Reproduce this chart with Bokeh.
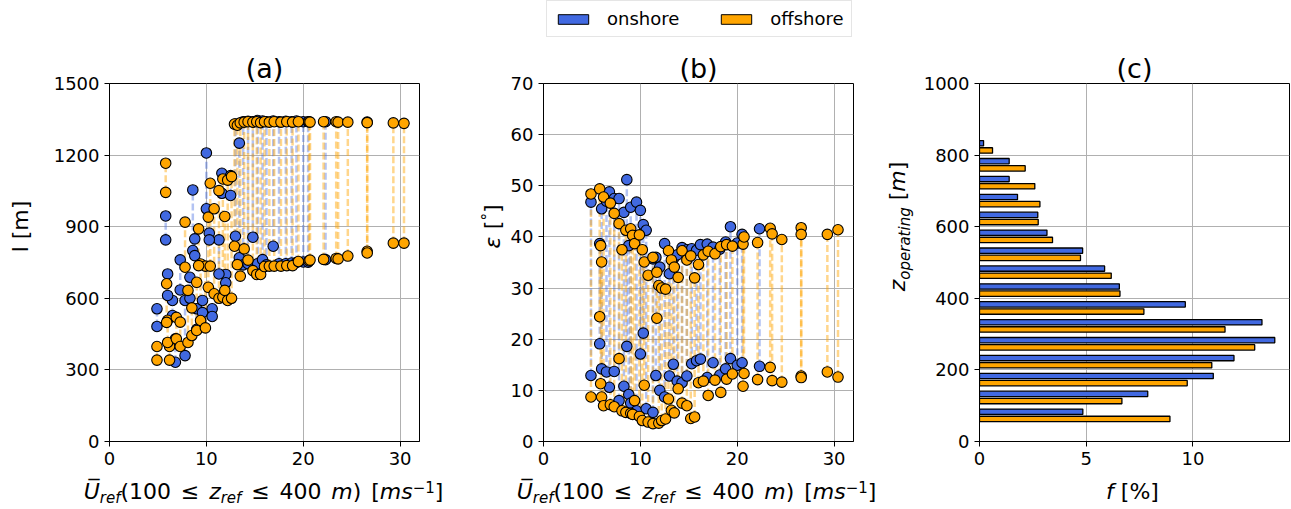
import math
from bokeh.plotting import figure
from bokeh.layouts import row, column
from bokeh.models import (Label, Legend, LegendItem, FixedTicker, Range1d,
                          ColumnDataSource)
from bokeh.embed import file_html
from bokeh.resources import INLINE

BLUE = "#4169E1"
ORANGE = "#FFA500"
FONT = "DejaVu Sans"

# ---------------- data ----------------
series_names = ["onshore", "offshore"]
panel_titles = ["(a)", "(b)", "(c)"]

U_on = [4.9, 5.8, 6.0, 6.5, 6.8, 7.3, 7.8, 8.3, 8.6, 8.8, 9.0, 9.6, 10.0, 10.3, 10.6, 11.3, 11.6, 12.0,
        12.5, 13.0, 13.4, 13.8, 14.3, 14.8, 15.3, 15.8, 16.2, 16.9, 17.5, 18.2, 18.8, 19.3, 20.0, 20.5, 22.3]
l_top_on = [556, 945, 702, 591, 430, 761, 591, 688, 1054, 849, 556, 591, 1209, 873, 556, 845, 1124, 700,
            1114, 1330, 1250, 1340, 1342, 1340, 1345, 1343, 1340, 1343, 1340, 1342, 1340, 1343, 1340, 1340, 1340]
l_bot_on = [482, 845, 612, 528, 332, 635, 360, 600, 800, 779, 470, 540, 975, 845, 524, 702, 1040, 665,
            1031, 860, 770, 740, 745, 856, 745, 762, 740, 818, 745, 745, 748, 750, 752, 751, 762]
e_top_on = [46.8, 38.7, 45.5, 47.0, 48.8, 47.5, 47.5, 44.8, 51.2, 38.3, 45.8, 46.8, 45.2, 42.4, 41.3, 35.7,
            36.0, 34.1, 38.7, 32.8, 35.7, 36.5, 37.9, 37.5, 37.7, 37.4, 38.5, 38.6, 38.0, 37.6, 39.0, 42.0,
            38.8, 40.5, 41.6]
e_bot_on = [12.9, 19.1, 14.2, 13.6, 10.6, 13.7, 8.0, 10.8, 18.6, 9.2, 7.5, 6.0, 17.1, 21.2, 6.4, 5.7,
            12.9, 10.0, 8.7, 12.8, 15.1, 11.8, 11.5, 12.8, 15.2, 15.8, 16.1, 12.5, 15.4, 13.0, 14.2, 16.2,
            14.9, 15.4, 14.7]

U_off = [4.9, 5.8, 5.9, 6.0, 6.2, 6.9, 7.3, 7.8, 8.1, 8.5, 9.0, 9.2, 9.4, 9.9, 10.2, 10.4, 10.8, 11.3,
         11.7, 11.9, 12.2, 12.6, 12.9, 13.2, 13.5, 13.9, 14.3, 14.8, 15.2, 15.6, 16.0, 16.5, 17.0, 17.7,
         18.3, 18.9, 19.5, 20.6, 20.7, 22.1, 23.4, 23.6, 24.6, 26.6, 26.6, 29.3, 30.4]
l_top_off = [398, 1166, 661, 508, 398, 520, 500, 919, 633, 560, 667, 891, 744, 735, 940, 1082, 975, 1051,
             1100, 943, 1095, 1110, 1330, 1325, 1335, 1338, 1340, 1338, 1340, 1336, 1340, 1338, 1340, 1338,
             1340, 1338, 1340, 1340, 1338, 1340, 1340, 1338, 1338, 1338, 1336, 1335, 1333]
l_bot_off = [341, 1044, 499, 415, 341, 430, 398, 730, 415, 444, 465, 737, 507, 476, 646, 735, 619, 600,
             605, 633, 591, 600, 818, 741, 693, 807, 760, 716, 700, 700, 733, 735, 735, 735, 737, 737,
             754, 757, 760, 763, 767, 765, 777, 797, 790, 831, 831]
e_top_off = [48.4, 49.4, 38.3, 35.1, 47.8, 46.6, 44.6, 42.6, 37.5, 41.3, 41.6, 40.3, 38.7, 40.4, 37.5,
             35.1, 32.5, 36.0, 33.1, 30.5, 30.0, 29.8, 37.3, 35.5, 34.1, 32.1, 37.3, 35.5, 36.3, 32.0,
             34.6, 36.5, 37.2, 36.7, 38.1, 38.5, 38.2, 38.6, 40.0, 38.9, 41.7, 40.6, 39.5, 41.8, 40.5,
             40.5, 41.4]
e_bot_off = [8.7, 24.4, 11.3, 8.7, 7.0, 7.2, 6.8, 16.2, 6.0, 5.7, 5.5, 5.3, 8.0, 4.9, 4.1, 11.0, 3.8,
             3.5, 24.1, 3.6, 4.1, 4.4, 8.3, 6.1, 5.6, 10.3, 7.5, 7.0, 4.5, 4.8, 11.5, 11.8, 9.0, 12.0,
             9.6, 12.2, 13.2, 10.8, 13.3, 12.1, 14.5, 11.9, 11.6, 12.8, 12.5, 13.6, 12.6]

z_bins = [75, 125, 175, 225, 275, 325, 375, 425, 475, 525, 575, 625, 675, 725, 775, 825]
f_on = [4.84, 7.88, 10.95, 11.92, 13.83, 13.23, 9.64, 6.55, 5.86, 4.83, 3.16, 2.73, 1.78, 1.39, 1.39, 0.19]
f_off = [8.92, 6.67, 9.73, 10.88, 12.89, 11.50, 7.70, 6.58, 6.17, 4.73, 3.42, 2.75, 2.83, 2.59, 2.14, 0.61]

x_ticks_ab = [0, 10, 20, 30]
l_ticks = [0, 300, 600, 900, 1200, 1500]
e_ticks = [0, 10, 20, 30, 40, 50, 60, 70]
f_ticks = [0, 5, 10]
z_ticks = [0, 200, 400, 600, 800, 1000]

# ---------------- helpers ----------------
W = {'0': .636, '1': .636, '2': .636, '3': .636, '4': .636, '5': .636, '6': .636, '7': .636, '8': .636,
     '9': .636, '(': .390, ')': .390, '[': .390, ']': .390, ' ': .318, 'U': .732, 'r': .411, 'e': .615,
     'f': .352, 'z': .525, 'm': .974, 's': .521, '\u2264': .838, '\u2212': .838, 'o': .612, 'p': .635,
     'a': .613, 't': .392, 'i': .278, 'n': .634, 'g': .635, 'l': .278, '%': .950, '\u03b5': .56,
     '\u00b0': .50, '\u0305': 0.0}

# the rendered text sits about a third of the font size below the requested baseline;
# compensate so that glyphs land where intended
BASE_COMP = 0.345


def tw(s, size):
    return sum(W.get(c, 0.6) for c in s) * size


def compose(p, pieces, cx, cy, angle=0.0):
    total = sum(tw(t, sz) for t, sz, it, dy in pieces)
    ca, sa = math.cos(angle), math.sin(angle)
    off = -total / 2.0
    for t, sz, it, dy in pieces:
        if t.strip():
            up = dy + BASE_COMP * sz
            px = cx + ca * off - sa * up
            py = cy + sa * off + ca * up
            p.add_layout(Label(x=px, y=py, x_units="screen", y_units="screen", text=t, angle=angle,
                               text_align="left", text_baseline="alphabetic", text_font=FONT,
                               text_font_size=f"{sz}px", text_color="black",
                               text_font_style="italic" if it else "normal"))
        off += tw(t, sz)


def blank(w, h):
    f = figure(width=w, height=h, toolbar_location=None, output_backend="svg",
               x_axis_type=None, y_axis_type=None, x_range=Range1d(0, 1), y_range=Range1d(0, 1),
               min_border=0, outline_line_color=None, border_fill_color="white",
               background_fill_color="white")
    f.grid.visible = False
    return f


FW, FH = 310, 358
LH = 45
TOP, BOT = 38, 36
PH = TOP + FH + BOT


def panel(xr, yr, xt, yt, left, right, ttl):
    p = figure(frame_width=FW, frame_height=FH, x_range=Range1d(*xr), y_range=Range1d(*yr),
               toolbar_location=None, output_backend="svg", min_border_left=left,
               min_border_right=right, min_border_top=TOP, min_border_bottom=BOT,
               background_fill_color="white", border_fill_color="white", title=ttl)
    p.title.align = "center"
    p.title.text_font = FONT
    p.title.text_font_size = "27px"
    p.title.text_font_style = "normal"
    p.title.text_color = "black"
    p.title.standoff = 0
    p.title.offset = 0
    p.xaxis.ticker = FixedTicker(ticks=xt)
    p.yaxis.ticker = FixedTicker(ticks=yt)
    for ax in p.axis:
        ax.major_label_text_font = FONT
        ax.major_label_text_font_size = "18px"
        ax.major_label_text_color = "black"
        ax.major_tick_out = 5
        ax.major_tick_in = 0
        ax.minor_tick_out = 0
        ax.minor_tick_in = 0
        ax.axis_line_color = "black"
        ax.major_tick_line_color = "black"
        ax.major_label_standoff = 5
    p.outline_line_color = "black"
    p.outline_line_width = 1
    p.grid.grid_line_color = "#b0b0b0"
    p.grid.grid_line_width = 1
    return p


src_on = ColumnDataSource(dict(U=U_on, lt=l_top_on, lb=l_bot_on, et=e_top_on, eb=e_bot_on))
src_off = ColumnDataSource(dict(U=U_off, lt=l_top_off, lb=l_bot_off, et=e_top_off, eb=e_bot_off))


def pairs(p, ytop, ybot):
    for src, col, al in ((src_on, BLUE, 0.4), (src_off, ORANGE, 0.45)):
        p.segment(x0="U", y0=ybot, x1="U", y1=ytop, source=src, line_color=col, line_alpha=al,
                  line_width=2.5, line_dash="7 3")
    for src, col in ((src_on, BLUE), (src_off, ORANGE)):
        for yc in (ytop, ybot):
            p.scatter("U", yc, source=src, size=10.5, fill_color=col, line_color="black",
                      line_width=1.1)


# ---------------- panels ----------------
pa = panel((0, 32), (0, 1500), x_ticks_ab, l_ticks, 58, 48, panel_titles[0])
pairs(pa, "lt", "lb")
pb = panel((0, 32), (0, 70), x_ticks_ab, e_ticks, 33, 29, panel_titles[1])
pairs(pb, "et", "eb")
pc = panel((0, 14.52), (0, 1000), f_ticks, z_ticks, 58, 4, panel_titles[2])
pc.hbar(y=[z + 8 for z in z_bins], right=f_on, left=0, height=15, fill_color=BLUE,
        line_color="black", line_width=1.3)
pc.hbar(y=[z - 12 for z in z_bins], right=f_off, left=0, height=15, fill_color=ORANGE,
        line_color="black", line_width=1.3)

F, S, G = 22, 15, 31
ycen = BOT + FH / 2

# y labels (separate strips left of each panel)
ya = blank(50, PH)
compose(ya, [("l", F, False, 0), (" ", F, False, 0), ("[m]", F, False, 0)], 28, ycen, math.pi / 2)
yb = blank(40, PH)
compose(yb, [("\u03b5", F, True, 0), (" ", F, False, 0), ("[", F, False, 0), ("\u00b0", S, False, 7),
             ("]", F, False, 0)], 33, ycen, math.pi / 2)
yc = blank(38, PH)
compose(yc, [("z", F, True, 0), ("operating", S, True, -5), (" ", F, False, 0), ("[", F, False, 0),
             ("m", F, True, 0), ("]", F, False, 0)], 23, ycen, math.pi / 2)

# x labels (one strip under all panels)
XH = 32
XB = 10.5
xs = blank(1291, XH)
xlab = [("U\u0305", F, True, 0), ("ref", S, True, -4.5), ("(100", F, False, 0), (" ", G, False, 0),
        ("\u2264", F, False, 0), (" ", G, False, 0), ("z", F, True, 0), ("ref", S, True, -4.5),
        (" ", G, False, 0), ("\u2264", F, False, 0), (" ", G, False, 0), ("400", F, False, 0),
        (" ", G, False, 0), ("m", F, True, 0), (")", F, False, 0), (" ", G, False, 0),
        ("[", F, False, 0), ("ms", F, True, 0), ("\u22121", S, False, 6.5), ("]", F, False, 0)]
compose(xs, xlab, 263, XB)
compose(xs, xlab, 696, XB)
compose(xs, [("f", F, True, 0), (" ", F, False, 0), ("[%]", F, False, 0)], 1132, XB)

# ---------------- legend ----------------
lf = blank(1291, LH)
r1 = lf.rect(x=[-5], y=[-5], width=1, height=1, fill_color=BLUE, line_color="black")
r2 = lf.rect(x=[-5], y=[-5], width=1, height=1, fill_color=ORANGE, line_color="black")
leg = Legend(items=[LegendItem(label=series_names[0], renderers=[r1]),
                    LegendItem(label=series_names[1], renderers=[r2])],
             orientation="horizontal", location=(546, 8), glyph_width=38, glyph_height=12,
             label_standoff=15, spacing=38, padding=7, margin=0, label_text_font=FONT,
             label_text_font_size="18px", label_text_color="black", border_line_color="#cccccc",
             border_line_width=1)
lf.add_layout(leg, "center")

layout = column(lf, row(ya, pa, yb, pb, yc, pc), xs)
open("out.html", "w").write(file_html(layout, INLINE))
